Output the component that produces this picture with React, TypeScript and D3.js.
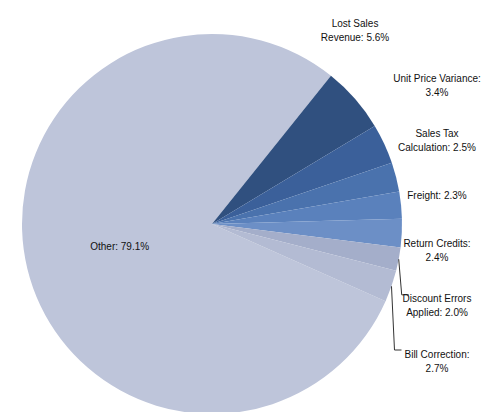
import * as d3 from "d3";

// slice order runs clockwise, starting with the big slice
const categories = [
  "Other",
  "Lost Sales Revenue",
  "Unit Price Variance",
  "Sales Tax Calculation",
  "Freight",
  "Return Credits",
  "Discount Errors Applied",
  "Bill Correction",
];
const values = [79.1, 5.6, 3.4, 2.5, 2.3, 2.4, 2.0, 2.7];
const labelLines = [
  ["Other: 79.1%"],
  ["Lost Sales", "Revenue: 5.6%"],
  ["Unit Price Variance:", "3.4%"],
  ["Sales Tax", "Calculation: 2.5%"],
  ["Freight: 2.3%"],
  ["Return Credits:", "2.4%"],
  ["Discount Errors", "Applied: 2.0%"],
  ["Bill Correction:", "2.7%"],
];
const colors = [
  "#bec5da",
  "#30507f",
  "#3b609a",
  "#4a72ad",
  "#5a81bc",
  "#6c8fc6",
  "#a4aeca",
  "#b3bbd3",
];

const W = 482;
const H = 412;
const cx = 212;
const cy = 224;
const r = 190;
const deg = Math.PI / 180;

export default function App() {
  const rows = categories.map((c, i) => ({ c, v: values[i], i }));
  const pie = d3
    .pie<(typeof rows)[number]>()
    .sort(null)
    .value((d) => d.v)
    .startAngle(114 * deg)
    .endAngle(114 * deg + 2 * Math.PI);
  const arcs = pie(rows);
  const arc = d3
    .arc<d3.PieArcDatum<(typeof rows)[number]>>()
    .innerRadius(0)
    .outerRadius(r);

  const small = arcs.slice(1);
  const yLabel = d3
    .scalePoint<string>()
    .domain(small.map((a) => a.data.c))
    .range([30, 361]);

  const fs = 10;
  const lh = 14;

  const big = arcs[0];
  const bigMid = (big.startAngle + big.endAngle) / 2;

  return (
    <svg
      width={W}
      height={H}
      style={{ position: "absolute", left: 0, top: 0, background: "#fff" }}
      fontFamily="'Liberation Sans', Arial, sans-serif"
    >
      <g transform={`translate(${cx},${cy})`}>
        {arcs.map((a, i) => (
          <path key={i} d={arc(a) ?? ""} fill={colors[i]} />
        ))}
      </g>

      {/* big slice label */}
      <text
        x={cx + 0.5 * r * Math.sin(bigMid)}
        y={cy - 0.5 * r * Math.cos(bigMid) + 4}
        fontSize={fs}
        textAnchor="middle"
        fill="#111"
      >
        {labelLines[0][0]}
      </text>

      {small.map((a) => {
        const i = a.data.i;
        const mid = (a.startAngle + a.endAngle) / 2;
        const ex = cx + r * Math.sin(mid);
        const ey = cy - r * Math.cos(mid);
        const ly = yLabel(a.data.c) ?? 0;
        // a label sitting above the pie is centred over its slice
        const lx = ly < ey - 40 && ex < cx + r * 0.8 ? ex : cx + r + 35;
        const lines = labelLines[i];
        const top = ly - ((lines.length - 1) * lh) / 2;
        const leader = ly - ey > 30;
        return (
          <g key={i}>
            {leader && (
              <polyline
                points={`${ex},${ey} ${ex + 3},${top - 4} ${ex + 10},${top - 4}`}
                fill="none"
                stroke="#333"
                strokeWidth={1}
              />
            )}
            <text
              x={lx}
              y={top + 3.5}
              fontSize={fs}
              textAnchor="middle"
              fill="#111"
            >
              {lines.map((t, k) => (
                <tspan key={k} x={lx} dy={k === 0 ? 0 : lh}>
                  {t}
                </tspan>
              ))}
            </text>
          </g>
        );
      })}
    </svg>
  );
}
